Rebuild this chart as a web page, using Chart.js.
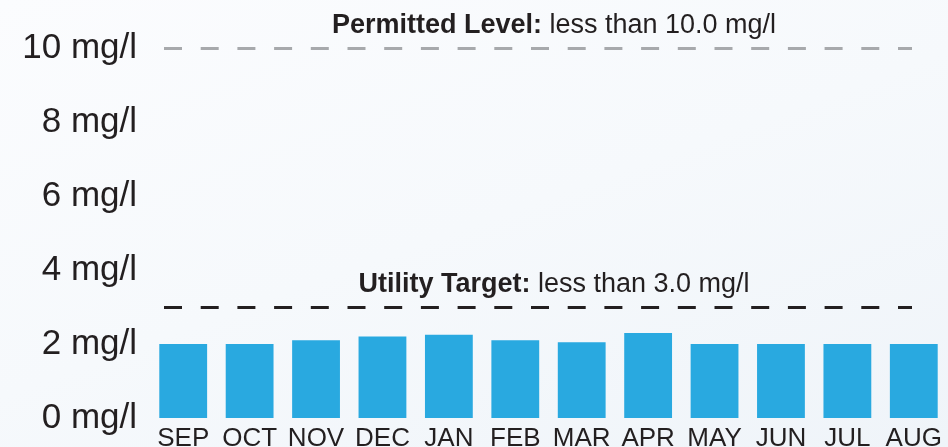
<!DOCTYPE html>
<html>
<head>
<meta charset="utf-8">
<script src="https://cdn.jsdelivr.net/npm/chart.js@4/dist/chart.umd.min.js"></script>
<style>
  html, body { margin:0; padding:0; }
  body { width:948px; height:447px; background: linear-gradient(160deg, #fbfcfe 0%, #f6f9fc 50%, #eff4f9 100%); }
  #wrap { position:relative; width:948px; height:447px; }
  canvas { display:block; }
</style>
</head>
<body>
<div id="wrap"><canvas id="chart" width="948" height="447"></canvas></div>
<script>
// monthly readings (mg/l)
const months = ['SEP','OCT','NOV','DEC','JAN','FEB','MAR','APR','MAY','JUN','JUL','AUG'];
const values = [2.0, 2.0, 2.1, 2.2, 2.25, 2.1, 2.05, 2.3, 2.0, 2.0, 2.0, 2.0];
const yTicks = [0, 2, 4, 6, 8, 10];

// reference lines
const limitValues = [10, 3];
const limitTitles = ['Permitted Level:', 'Utility Target:'];
const limitTexts = [' less than 10.0 mg/l', ' less than 3.0 mg/l'];
const limitColors = ['#a7a9ac', '#231f20'];

const FONT = '"Liberation Sans", Arial, sans-serif';

const limitLines = {
  id: 'limitLines',
  afterDatasetsDraw(chart){
    const ctx = chart.ctx;
    const y = chart.scales.y;
    const x0 = 164, x1 = 912, cx = 554;
    limitValues.forEach((v,i)=>{
      const py = Math.round(y.getPixelForValue(v)) + 0.5;
      ctx.save();
      ctx.strokeStyle = limitColors[i];
      ctx.lineWidth = 3;
      ctx.setLineDash([18, 18.7]);
      ctx.beginPath();
      ctx.moveTo(x0, py);
      ctx.lineTo(x1, py);
      ctx.stroke();
      ctx.setLineDash([]);
      // label
      ctx.fillStyle = '#231f20';
      ctx.textBaseline = 'alphabetic';
      ctx.font = 'bold 27px ' + FONT;
      const w1 = ctx.measureText(limitTitles[i]).width;
      ctx.font = '27px ' + FONT;
      const w2 = ctx.measureText(limitTexts[i]).width;
      let sx = cx - (w1 + w2) / 2;
      ctx.font = 'bold 27px ' + FONT;
      ctx.fillText(limitTitles[i], sx, py - 16);
      ctx.font = '27px ' + FONT;
      ctx.fillText(limitTexts[i], sx + w1, py - 16);
      ctx.restore();
    });
  }
};

new Chart(document.getElementById('chart'), {
  type: 'bar',
  data: {
    labels: months,
    datasets: [{
      data: values,
      backgroundColor: '#29a9e0',
      barPercentage: 0.8,
      categoryPercentage: 0.9
    }]
  },
  options: {
    responsive: false,
    maintainAspectRatio: false,
    animation: false,
    devicePixelRatio: 1,
    layout: { padding: { top: 11, right: 1, left: 0, bottom: 0 } },
    plugins: { legend: { display: false }, tooltip: { enabled: false } },
    scales: {
      x: {
        afterFit(axis){ axis.height = 29; axis.paddingLeft = 0; axis.paddingRight = 0; },
        grid: { display: false, drawTicks: false },
        border: { display: false },
        ticks: { color: '#231f20', font: { family: FONT, size: 26 }, padding: 5, maxRotation: 0, autoSkip: false }
      },
      y: {
        min: 0, max: 11,
        afterBuildTicks(axis){ axis.ticks = yTicks.map(v=>({ value: v })); },
        afterFit(axis){ axis.width = 150; axis.paddingTop = 0; axis.paddingBottom = 0; },
        grid: { display: false, drawTicks: false },
        border: { display: false },
        ticks: {
          color: '#231f20',
          font: { family: FONT, size: 35 },
          padding: 13,
          callback: v => v + ' mg/l'
        }
      }
    }
  },
  plugins: [limitLines]
});
</script>
</body>
</html>
